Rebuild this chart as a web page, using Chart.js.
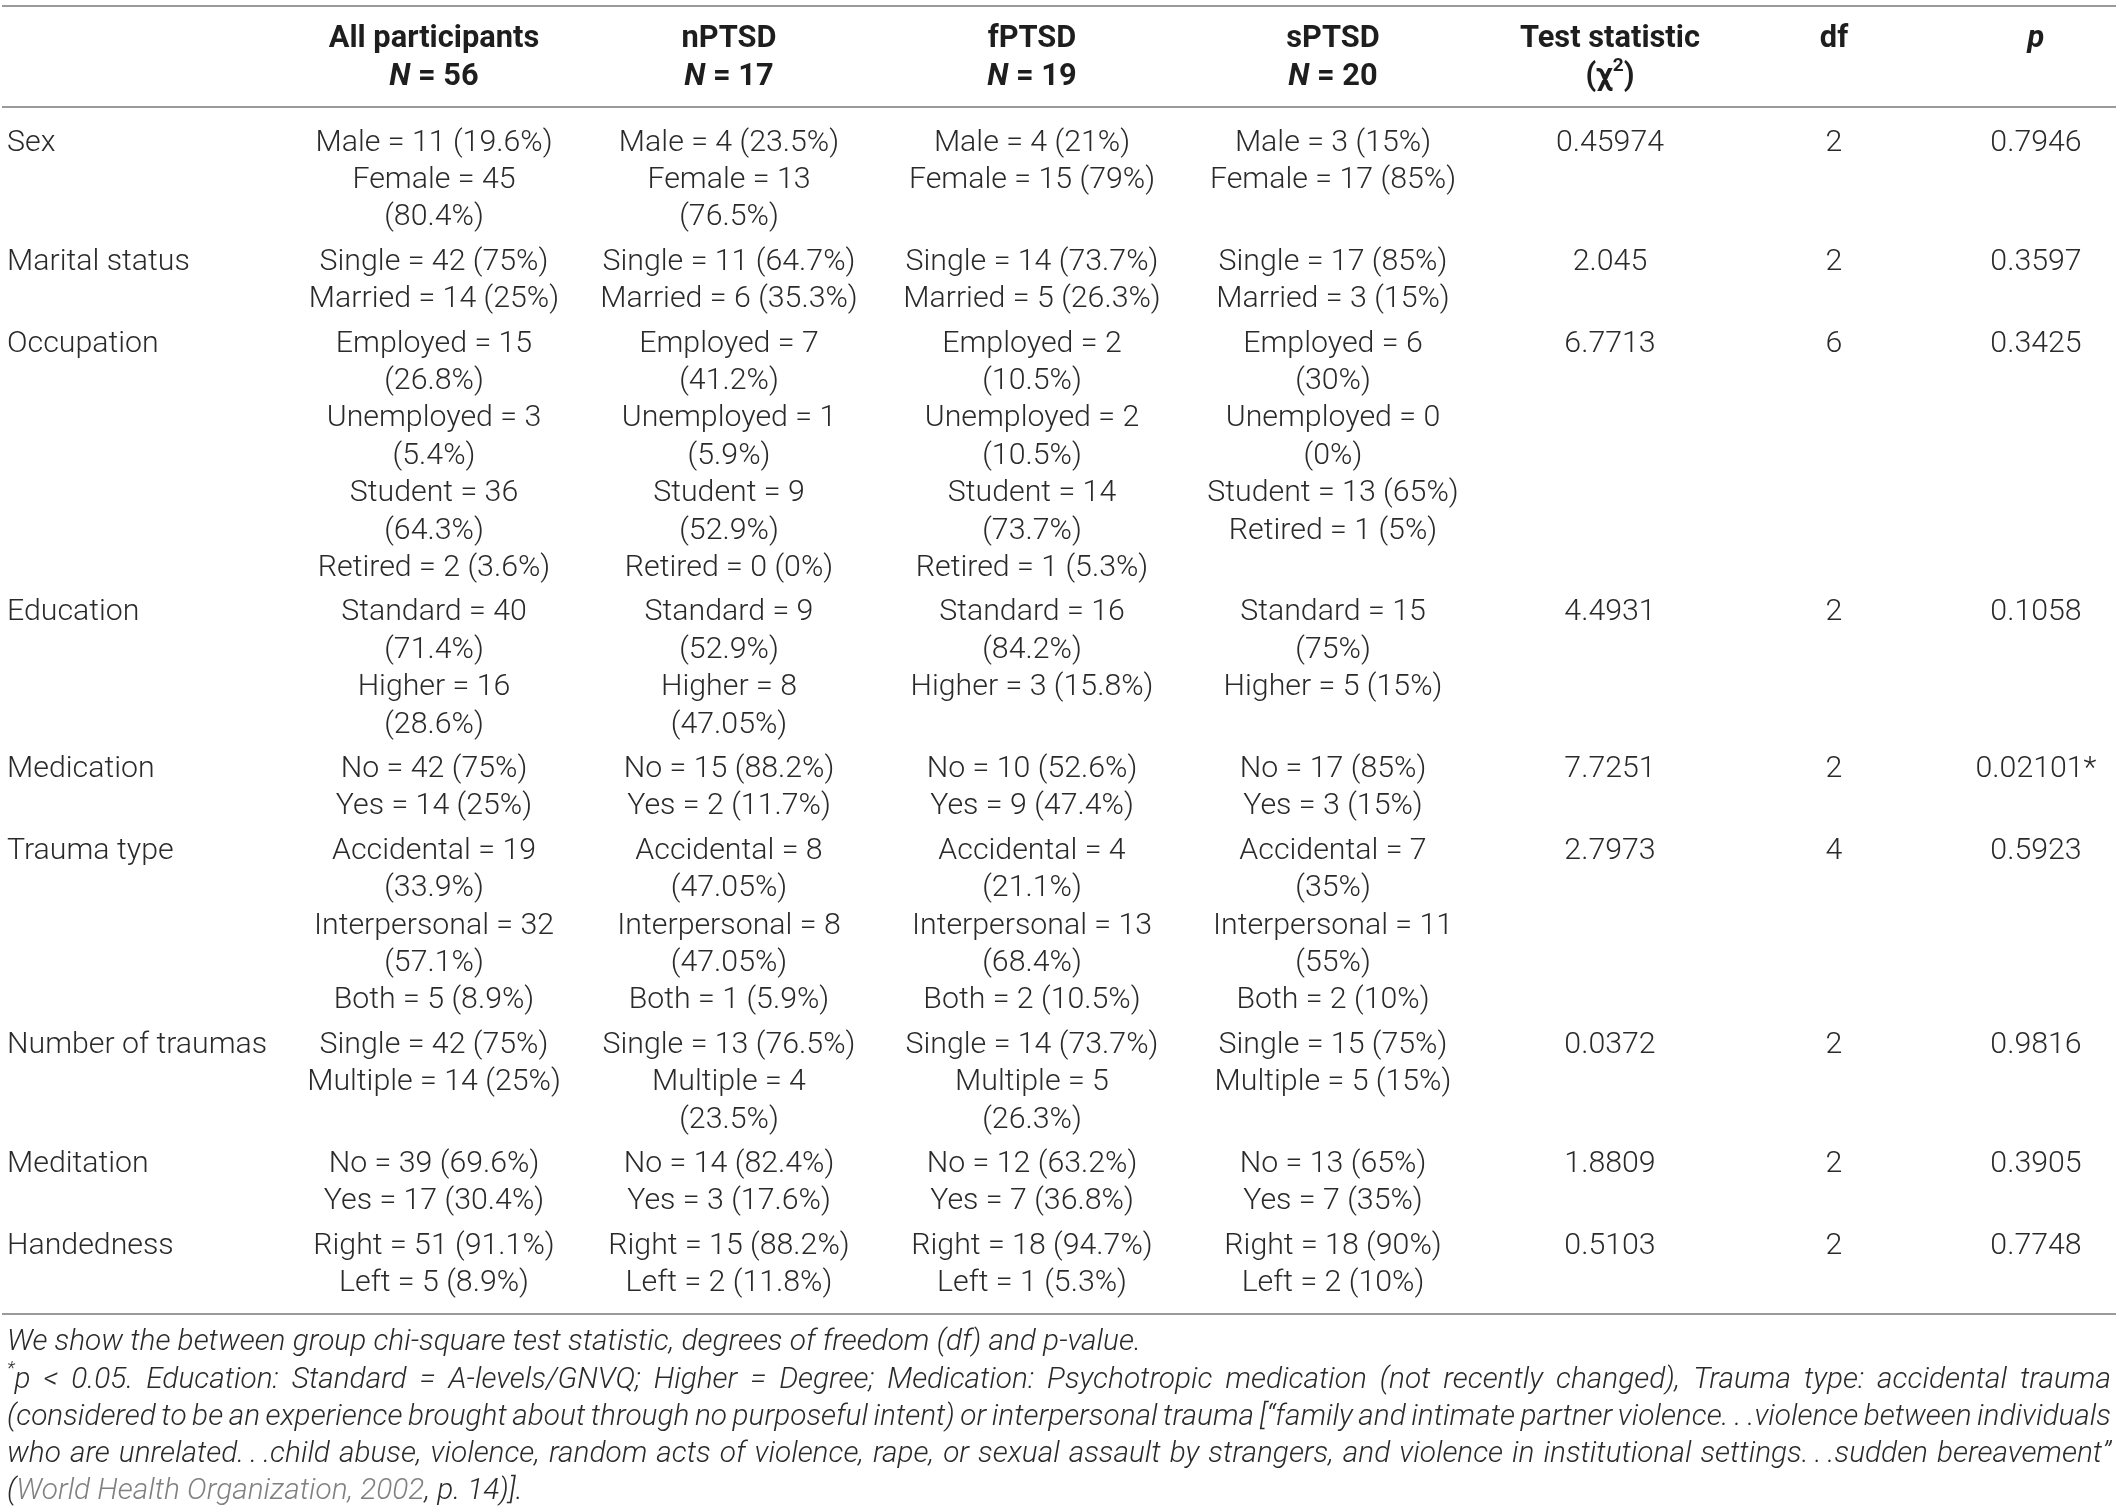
<!DOCTYPE html>
<html><head><meta charset="utf-8">
<script src="https://cdn.jsdelivr.net/npm/chart.js@4.4.1/dist/chart.umd.min.js"></script>
<style>html,body{margin:0;padding:0;background:#fff;overflow:hidden}#wrap{width:2118px;height:1510px;position:relative}</style>
</head><body><div id="wrap"><canvas id="c"></canvas></div>
<script>
// ---------------- DATA ----------------
const columnHeaders = ["", "All participants", "nPTSD", "fPTSD", "sPTSD", "Test statistic", "df", "<i>p</i>"];
const columnSubheaders = ["", "<i>N</i> = 56", "<i>N</i> = 17", "<i>N</i> = 19", "<i>N</i> = 20", "(χ<sup>2</sup>)", "", ""];
const rowLabels = ["Sex", "Marital status", "Occupation", "Education", "Medication", "Trauma type", "Number of traumas", "Meditation", "Handedness"];
const allParticipants = [
  ["Male = 11 (19.6%)", "Female = 45", "(80.4%)"],
  ["Single = 42 (75%)", "Married = 14 (25%)"],
  ["Employed = 15", "(26.8%)", "Unemployed = 3", "(5.4%)", "Student = 36", "(64.3%)", "Retired = 2 (3.6%)"],
  ["Standard = 40", "(71.4%)", "Higher = 16", "(28.6%)"],
  ["No = 42 (75%)", "Yes = 14 (25%)"],
  ["Accidental = 19", "(33.9%)", "Interpersonal = 32", "(57.1%)", "Both = 5 (8.9%)"],
  ["Single = 42 (75%)", "Multiple = 14 (25%)"],
  ["No = 39 (69.6%)", "Yes = 17 (30.4%)"],
  ["Right = 51 (91.1%)", "Left = 5 (8.9%)"]
];
const nPTSD = [
  ["Male = 4 (23.5%)", "Female = 13", "(76.5%)"],
  ["Single = 11 (64.7%)", "Married = 6 (35.3%)"],
  ["Employed = 7", "(41.2%)", "Unemployed = 1", "(5.9%)", "Student = 9", "(52.9%)", "Retired = 0 (0%)"],
  ["Standard = 9", "(52.9%)", "Higher = 8", "(47.05%)"],
  ["No = 15 (88.2%)", "Yes = 2 (11.7%)"],
  ["Accidental = 8", "(47.05%)", "Interpersonal = 8", "(47.05%)", "Both = 1 (5.9%)"],
  ["Single = 13 (76.5%)", "Multiple = 4", "(23.5%)"],
  ["No = 14 (82.4%)", "Yes = 3 (17.6%)"],
  ["Right = 15 (88.2%)", "Left = 2 (11.8%)"]
];
const fPTSD = [
  ["Male = 4 (21%)", "Female = 15 (79%)"],
  ["Single = 14 (73.7%)", "Married = 5 (26.3%)"],
  ["Employed = 2", "(10.5%)", "Unemployed = 2", "(10.5%)", "Student = 14", "(73.7%)", "Retired = 1 (5.3%)"],
  ["Standard = 16", "(84.2%)", "Higher = 3 (15.8%)"],
  ["No = 10 (52.6%)", "Yes = 9 (47.4%)"],
  ["Accidental = 4", "(21.1%)", "Interpersonal = 13", "(68.4%)", "Both = 2 (10.5%)"],
  ["Single = 14 (73.7%)", "Multiple = 5", "(26.3%)"],
  ["No = 12 (63.2%)", "Yes = 7 (36.8%)"],
  ["Right = 18 (94.7%)", "Left = 1 (5.3%)"]
];
const sPTSD = [
  ["Male = 3 (15%)", "Female = 17 (85%)"],
  ["Single = 17 (85%)", "Married = 3 (15%)"],
  ["Employed = 6", "(30%)", "Unemployed = 0", "(0%)", "Student = 13 (65%)", "Retired = 1 (5%)"],
  ["Standard = 15", "(75%)", "Higher = 5 (15%)"],
  ["No = 17 (85%)", "Yes = 3 (15%)"],
  ["Accidental = 7", "(35%)", "Interpersonal = 11", "(55%)", "Both = 2 (10%)"],
  ["Single = 15 (75%)", "Multiple = 5 (15%)"],
  ["No = 13 (65%)", "Yes = 7 (35%)"],
  ["Right = 18 (90%)", "Left = 2 (10%)"]
];
const testStatistic = ["0.45974", "2.045", "6.7713", "4.4931", "7.7251", "2.7973", "0.0372", "1.8809", "0.5103"];
const dfValues = ["2", "2", "6", "2", "2", "4", "2", "2", "2"];
const pValues = ["0.7946", "0.3597", "0.3425", "0.1058", "0.02101*", "0.5923", "0.9816", "0.3905", "0.7748"];
const footnotes = [
  "We show the between group chi-square test statistic, degrees of freedom (df) and p-value.",
  "<sup>*</sup>p < 0.05. Education: Standard = A-levels/GNVQ; Higher = Degree; Medication: Psychotropic medication (not recently changed), Trauma type: accidental trauma",
  "(considered to be an experience brought about through no purposeful intent) or interpersonal trauma [“family and intimate partner violence.\u2009.\u2009.violence between individuals",
  "who are unrelated.\u2009.\u2009.child abuse, violence, random acts of violence, rape, or sexual assault by strangers, and violence in institutional settings.\u2009.\u2009.sudden bereavement”",
  "(<g>World Health Organization, 2002</g>, p. 14)]."
];
const footnoteJustified = [false, true, true, true, false];

// ---------------- LAYOUT / STYLE ----------------
const W = 2118, H = 1510;
const FAMILY = "Roboto, 'Liberation Sans', sans-serif";
const BODY = {family: FAMILY, weight: 300, size: 30.3, color: "#2a2a2a", gray: "#7d7d7d", italic: false};
const HEAD = {family: FAMILY, weight: 700, size: 30.8, color: "#1e1e1e", gray: "#7d7d7d", italic: false};
const FOOT = {family: FAMILY, weight: 300, size: 29.8, color: "#2a2a2a", gray: "#808080", italic: true};
const COL_X = [7, 434, 729, 1032, 1333, 1610, 1834, 2036];
const COL_ALIGN = ["left", "center", "center", "center", "center", "center", "center", "center"];
const LINE = 37.4, ROW_GAP = 7;
const HEAD_Y = 39.5, HEAD_LINE = 37.5;
const RULES_Y = [6, 107, 1314];
const FIRST_ROW_Y = 143;
const FOOT_Y = 1343, FOOT_LINE = 37.2, FOOT_X0 = 7, FOOT_X1 = 2111;

// body columns (each cell = array of text lines)
const bodyColumns = [
  rowLabels.map(l => [l]),
  allParticipants, nPTSD, fPTSD, sPTSD,
  testStatistic.map(v => [v]),
  dfValues.map(v => [v]),
  pValues.map(v => [v])
];
// row start positions derived from the number of lines in each row
const rowLines = rowLabels.map((_, r) => Math.max(...bodyColumns.map(c => c[r].length)));
const rowY = [];
rowLines.reduce((y, n, r) => { rowY[r] = y; return y + n * LINE + ROW_GAP; }, FIRST_ROW_Y);

// ---------------- RICH TEXT ----------------
function segs(s) {
  const out = []; const re = /<(i|sup|g)>([\s\S]*?)<\/\1>/g; let last = 0, m;
  while ((m = re.exec(s))) { if (m.index > last) out.push({t: s.slice(last, m.index)}); out.push({t: m[2], [m[1]]: true}); last = re.lastIndex; }
  if (last < s.length) out.push({t: s.slice(last)});
  return out;
}
function fontFor(sg, st) {
  const it = st.italic || sg.i; const sz = sg.sup ? st.size * 0.62 : st.size;
  return (it ? "italic " : "") + st.weight + " " + sz + "px " + st.family;
}
function measureRich(ctx, s, st) { let w = 0; for (const sg of segs(s)) { ctx.font = fontFor(sg, st); w += ctx.measureText(sg.t).width; } return w; }
function drawRich(ctx, s, x, y, st, align) {
  const w = measureRich(ctx, s, st);
  let cx = align === "center" ? x - w / 2 : align === "right" ? x - w : x;
  ctx.textBaseline = "middle"; ctx.textAlign = "left";
  for (const sg of segs(s)) {
    ctx.font = fontFor(sg, st); ctx.fillStyle = sg.g ? st.gray : st.color;
    ctx.fillText(sg.t, cx, sg.sup ? y - st.size * 0.36 : y);
    cx += ctx.measureText(sg.t).width;
  }
}
function drawJustified(ctx, s, x0, x1, y, st) {
  const words = s.split(" "); const ws = words.map(w => measureRich(ctx, w, st));
  const total = ws.reduce((a, b) => a + b, 0); const gap = (x1 - x0 - total) / (words.length - 1);
  let x = x0; words.forEach((w, i) => { drawRich(ctx, w, x, y, st, "left"); x += ws[i] + gap; });
}

// ---------------- CHART ----------------
const datasets = [];
datasets.push({
  label: "header", role: "head",
  data: COL_X.map(x => ({x: x, y: HEAD_Y})),
  cells: columnHeaders.map((h, i) => [h, columnSubheaders[i]]),
  pointRadius: 0, showLine: false
});
bodyColumns.forEach((col, ci) => {
  datasets.push({
    label: "col" + ci, role: "body", col: ci,
    data: col.map((_, r) => ({x: COL_X[ci], y: rowY[r]})),
    cells: col, pointRadius: 0, showLine: false
  });
});

const tablePlugin = {
  id: "tableText",
  beforeDatasetsDraw(chart) {
    const ctx = chart.ctx, xs = chart.scales.x, ys = chart.scales.y;
    ctx.save(); ctx.strokeStyle = "#9a9a9a"; ctx.lineWidth = 2;
    RULES_Y.forEach(v => { const py = ys.getPixelForValue(v); ctx.beginPath(); ctx.moveTo(xs.getPixelForValue(2), py); ctx.lineTo(xs.getPixelForValue(W - 2), py); ctx.stroke(); });
    ctx.restore();
  },
  afterDatasetsDraw(chart) {
    const ctx = chart.ctx, ys = chart.scales.y, xs = chart.scales.x;
    ctx.save();
    chart.data.datasets.forEach((ds, di) => {
      const meta = chart.getDatasetMeta(di);
      meta.data.forEach((el, i) => {
        const lines = ds.cells[i];
        const st = ds.role === "head" ? HEAD : BODY;
        const align = ds.role === "head" ? COL_ALIGN[i] : COL_ALIGN[ds.col];
        const step = ds.role === "head" ? HEAD_LINE : LINE;
        lines.forEach((ln, k) => { if (ln) drawRich(ctx, ln, el.x, ys.getPixelForValue(ys.getValueForPixel(el.y) + k * step), st, align); });
      });
    });
    footnotes.forEach((f, k) => {
      const py = ys.getPixelForValue(FOOT_Y + k * FOOT_LINE);
      if (footnoteJustified[k]) drawJustified(ctx, f, xs.getPixelForValue(FOOT_X0), xs.getPixelForValue(FOOT_X1), py, FOOT);
      else drawRich(ctx, f, xs.getPixelForValue(FOOT_X0), py, FOOT, "left");
    });
    ctx.restore();
  }
};

new Chart(document.getElementById("c"), {
  type: "scatter",
  data: {datasets: datasets},
  options: {
    responsive: true, maintainAspectRatio: false, animation: false,
    layout: {padding: 0},
    plugins: {legend: {display: false}, tooltip: {enabled: false}},
    events: [],
    scales: {
      x: {type: "linear", min: 0, max: W, display: false},
      y: {type: "linear", min: 0, max: H, reverse: true, display: false}
    }
  },
  plugins: [tablePlugin]
});
</script></body></html>
